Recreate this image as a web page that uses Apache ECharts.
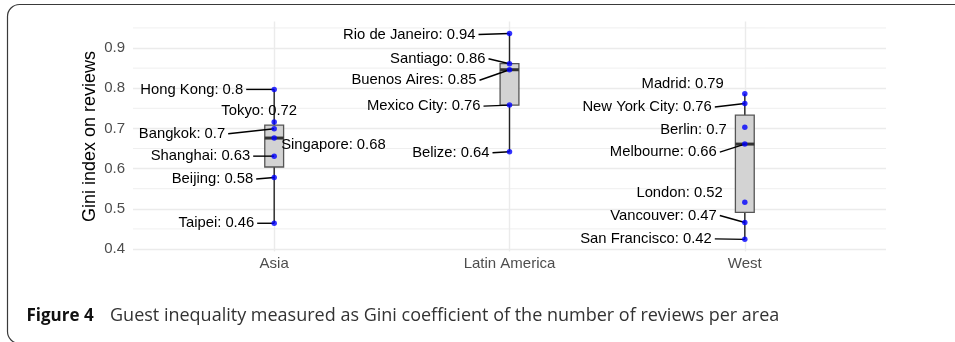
<!DOCTYPE html>
<html>
<head>
<meta charset="utf-8">
<script src="https://cdn.jsdelivr.net/npm/echarts@6/dist/echarts.min.js"></script>
<style>
html,body{margin:0;padding:0;background:#fff;}
#chart{width:955px;height:342px;}
</style>
</head>
<body>
<div id="chart"></div>
<script>
// ---------- data ----------
const categories = ['Asia', 'Latin America', 'West'];

const asiaCities  = ['Hong Kong', 'Tokyo', 'Bangkok', 'Singapore', 'Shanghai', 'Beijing', 'Taipei'];
const asiaValues  = [0.797, 0.716, 0.699, 0.676, 0.631, 0.578, 0.464];

const latamCities = ['Rio de Janeiro', 'Santiago', 'Buenos Aires', 'Mexico City', 'Belize'];
const latamValues = [0.936, 0.861, 0.846, 0.758, 0.642];

const westCities  = ['Madrid', 'New York City', 'Berlin', 'Melbourne', 'London', 'Vancouver', 'San Francisco'];
const westValues  = [0.786, 0.762, 0.703, 0.661, 0.516, 0.466, 0.424];

// box statistics per category (Asia, Latin America, West)
const boxLower  = [0.464, 0.642, 0.424];
const boxQ1     = [0.604, 0.758, 0.491];
const boxMedian = [0.676, 0.846, 0.661];
const boxQ3     = [0.708, 0.861, 0.733];
const boxUpper  = [0.797, 0.936, 0.786];

const yMajorTicks = [0.4, 0.5, 0.6, 0.7, 0.8, 0.9];
const yMinorTicks = [0.45, 0.55, 0.65, 0.75, 0.85, 0.95];

const yTitle = 'Gini index on reviews';
const captionBold = 'Figure 4';
const captionText = 'Guest inequality measured as Gini coefficient of the number of reviews per area';

// ---------- label placement (pixel offsets from the point: dx, dy, align, leader line) ----------
const labelPlacement = {
  'Hong Kong':      [-31, 0, 'right', true],
  'Tokyo':          [-15, -11, 'center', false],
  'Bangkok':        [-49, 5, 'right', true],
  'Singapore':      [7, 7, 'left', false],
  'Shanghai':       [-24, 0, 'right', true],
  'Beijing':        [-21, 1.5, 'right', true],
  'Taipei':         [-20, 0, 'right', true],
  'Rio de Janeiro': [-34, 1, 'right', true],
  'Santiago':       [-24, -5, 'right', true],
  'Buenos Aires':   [-33, 10.5, 'right', true],
  'Mexico City':    [-29, 1, 'right', true],
  'Belize':         [-20, 1, 'right', true],
  'Madrid':         [-21, -9.5, 'right', false],
  'New York City':  [-33, 3.5, 'right', true],
  'Berlin':         [-18, 3, 'right', false],
  'Melbourne':      [-28, 8, 'right', true],
  'London':         [-22, -9.5, 'right', false],
  'Vancouver':      [-28, -7, 'right', true],
  'San Francisco':  [-33, -0.5, 'right', true]
};

// ---------- build ----------
const groups = [[asiaCities, asiaValues], [latamCities, latamValues], [westCities, westValues]];
const points = [];   // [xPos, value, name]
groups.forEach((g, gi) => {
  g[0].forEach((name, i) => points.push([gi + 1, g[1][i], name]));
});
const fmt = v => String(Math.round(v * 100) / 100);
const boxData = categories.map((c, i) => [i + 1, boxLower[i], boxQ1[i], boxMedian[i], boxQ3[i], boxUpper[i]]);

const FONT = '"Liberation Sans", Arial, sans-serif';
const CAPFONT = '"Open Sans", sans-serif';
const chart = echarts.init(document.getElementById('chart'), null, {renderer: 'canvas'});

chart.setOption({
  animation: false,
  backgroundColor: '#ffffff',
  grid: {left: 133, right: 69, top: 21.5, bottom: 90.6},
  xAxis: {
    type: 'value', min: 0.4, max: 3.6,
    axisLine: {show: false},
    axisTick: {show: false, customValues: [1, 2, 3]},
    axisLabel: {customValues: [1, 2, 3], formatter: v => categories[Math.round(v) - 1],
      color: '#4d4d4d', fontSize: 15, fontFamily: FONT, margin: 5},
    splitLine: {show: true, lineStyle: {color: '#ebebeb', width: 1.4}}
  },
  yAxis: {
    type: 'value', min: 0.394, max: 0.966,
    name: yTitle, nameLocation: 'middle', nameGap: 34, nameRotate: 90, nameMoveOverlap: false,
    nameTextStyle: {fontSize: 18, color: '#000', fontFamily: FONT},
    axisLine: {show: false},
    axisTick: {show: false, customValues: yMajorTicks},
    axisLabel: {customValues: yMajorTicks, formatter: v => v.toFixed(1),
      color: '#4d4d4d', fontSize: 15, fontFamily: FONT, margin: 8},
    splitLine: {show: true, lineStyle: {color: '#ebebeb', width: 1.4}}
  },
  graphic: [
    {type: 'rect', silent: true, shape: {x: 7.5, y: 4.5, width: 1200, height: 339, r: 12},
      style: {fill: null, stroke: '#3a3a3a', lineWidth: 1.2}},
    {type: 'text', silent: true, x: 26.5, y: 316,
      style: {text: captionBold, font: 'bold 17px ' + CAPFONT, fill: '#111', verticalAlign: 'middle', align: 'left'}},
    {type: 'text', silent: true, x: 110, y: 316,
      style: {text: captionText, font: '18px ' + CAPFONT, fill: '#333', verticalAlign: 'middle', align: 'left'}}
  ],
  series: [
    {
      type: 'custom', name: 'minorGrid', z: 1, silent: true,
      data: yMinorTicks.map(v => [v]),
      encode: {y: 0},
      renderItem: (params, api) => {
        const cs = params.coordSys;
        const p = api.coord([1, api.value(0)]);
        return {type: 'line', shape: {x1: cs.x, y1: p[1], x2: cs.x + cs.width, y2: p[1]},
          style: {stroke: '#ebebeb', lineWidth: 0.8}};
      }
    },
    {
      type: 'custom', name: 'box', z: 2, silent: true,
      data: boxData,
      encode: {x: 0, y: [1, 2, 3, 4, 5]},
      renderItem: (params, api) => {
        const x = api.value(0);
        const lo = api.coord([x, api.value(1)]);
        const q1 = api.coord([x, api.value(2)]);
        const md = api.coord([x, api.value(3)]);
        const q3 = api.coord([x, api.value(4)]);
        const hi = api.coord([x, api.value(5)]);
        const hw = api.size([1, 0])[0] * 0.04;
        return {type: 'group', children: [
          {type: 'line', shape: {x1: lo[0], y1: lo[1], x2: q1[0], y2: q1[1]}, style: {stroke: '#222', lineWidth: 1.4}},
          {type: 'line', shape: {x1: q3[0], y1: q3[1], x2: hi[0], y2: hi[1]}, style: {stroke: '#222', lineWidth: 1.4}},
          {type: 'rect', shape: {x: q3[0] - hw, y: q3[1], width: 2 * hw, height: q1[1] - q3[1]},
            style: {fill: '#d3d3d3', stroke: '#555', lineWidth: 1.3}},
          {type: 'line', shape: {x1: md[0] - hw, y1: md[1], x2: md[0] + hw, y2: md[1]}, style: {stroke: '#333', lineWidth: 3}}
        ]};
      }
    },
    {
      type: 'custom', name: 'labels', z: 3, silent: true,
      data: points,
      encode: {x: 0, y: 1},
      renderItem: (params, api) => {
        const item = points[params.dataIndex];
        const p = api.coord([item[0], item[1]]);
        const pl = labelPlacement[item[2]];
        const ax = p[0] + pl[0], ay = p[1] + pl[1];
        const children = [];
        if (pl[3]) {
          const sx = pl[2] === 'right' ? ax + 3 : (pl[2] === 'left' ? ax - 3 : ax);
          children.push({type: 'line', shape: {x1: sx, y1: ay, x2: p[0], y2: p[1]},
            style: {stroke: '#000', lineWidth: 1.4}});
        }
        children.push({type: 'text', style: {x: ax, y: ay, text: item[2] + ': ' + fmt(item[1]),
          font: '14.8px ' + FONT, fill: '#000', align: pl[2], verticalAlign: 'middle'}});
        return {type: 'group', children};
      }
    },
    {
      type: 'scatter', name: 'cities', z: 4, silent: true,
      data: points.map(p => [p[0], p[1]]),
      symbolSize: 5.5,
      itemStyle: {color: '#0000ff'}
    }
  ]
});
</script>
</body>
</html>
